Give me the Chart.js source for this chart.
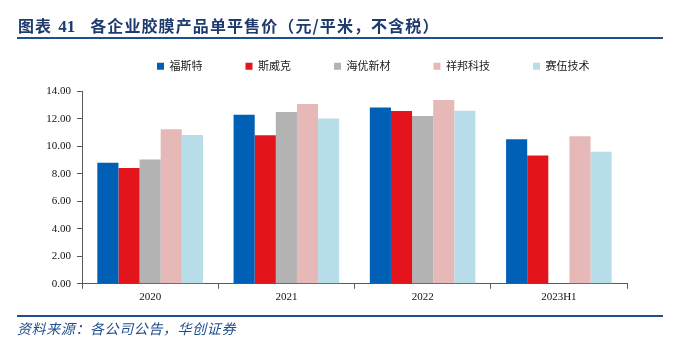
<!DOCTYPE html>
<html>
<head>
<meta charset="utf-8">
<script src="https://cdn.jsdelivr.net/npm/chart.js@4/dist/chart.umd.min.js"></script>
<style>
  html, body { margin: 0; padding: 0; background: #fff; overflow: hidden; }
  body { width: 677px; height: 355px; position: relative; }
  #title { position: absolute; left: 18px; top: 15px; height: 20px; line-height: 20px; font-size: 16px; font-weight: bold; color: #1F3B6E; font-family: "Noto Sans CJK SC", sans-serif; white-space: nowrap; letter-spacing: 1.1px; }
  #title .num { font-family: "Liberation Serif", serif; font-size: 17px; margin-left: 6px; margin-right: 15px; letter-spacing: 0; }
  #topline { position: absolute; left: 17px; top: 37px; width: 646px; height: 2px; background: #1F4E8C; }
  #botline { position: absolute; left: 17px; top: 315px; width: 646px; height: 2px; background: #1F4E8C; }
  #source { position: absolute; left: 17px; top: 319px; line-height: 18px; font-size: 14px; font-style: italic; color: #1F4E8C; font-family: "Noto Sans CJK SC", sans-serif; white-space: nowrap; letter-spacing: 0.6px; }
  #wrap { position: absolute; left: 0; top: 0; width: 677px; height: 355px; }
</style>
</head>
<body>
<div id="wrap"><canvas id="c" width="677" height="355"></canvas></div>
<div id="title">图表<span class="num">41</span>各企业胶膜产品单平售价（元/平米，不含税）</div>
<div id="topline"></div>
<div id="botline"></div>
<div id="source">资料来源：各公司公告，华创证券</div>
<script>
const categories = ["2020", "2021", "2022", "2023H1"];
const seriesNames = ["福斯特", "斯威克", "海优新材", "祥邦科技", "赛伍技术"];
const foster   = [8.79, 12.28, 12.82, 10.51];
const sveck    = [8.42, 10.80, 12.56, 9.33];
const haiyou   = [9.04, 12.48, 12.19, null];
const xiangbang = [11.24, 13.07, 13.36, 10.72];
const cybrid   = [10.82, 12.01, 12.58, 9.60];
const yTicks = [0, 2, 4, 6, 8, 10, 12, 14];

const colors = ["#0060B5", "#E3141C", "#B3B3B3", "#E6B9B8", "#B7DEE8"];
const seriesData = [foster, sveck, haiyou, xiangbang, cybrid];

const legendShift = {
  id: 'legendShift',
  afterLayout(chart) {
    const lg = chart.legend;
    if (!lg || !lg.lineWidths) return;
    const pad = lg.options.labels.padding;
    const start = (lg.left + pad + lg.right - lg.lineWidths[0]) / 2;
    const dx = 157 - start;
    const dy = -9.5;
    lg.left += dx; lg.right += dx;
    lg.top += dy; lg.bottom += dy;
  }
};

new Chart(document.getElementById('c'), {
  type: 'bar',
  data: {
    labels: categories,
    datasets: seriesNames.map((n, i) => ({
      label: n,
      data: seriesData[i],
      backgroundColor: colors[i],
      borderWidth: 0,
      categoryPercentage: 0.775,
      barPercentage: 1.0
    }))
  },
  options: {
    responsive: false,
    animation: false,
    layout: { padding: { top: 27.2, left: 0, right: 50, bottom: 49 } },
    plugins: {
      legend: {
        display: true,
        position: 'top',
        labels: {
          boxWidth: 7,
          boxHeight: 7,
          padding: 43,
          color: '#222',
          font: { family: '"Noto Sans CJK SC", sans-serif', size: 11 }
        }
      },
      tooltip: { enabled: false },
      title: { display: false }
    },
    scales: {
      x: {
        grid: { display: true, drawOnChartArea: false, drawTicks: true, tickLength: 5, color: '#595959', offset: true },
        border: { display: true, color: '#595959', width: 1 },
        ticks: { padding: 2, color: '#111', font: { family: '"Liberation Serif", serif', size: 11 } }
      },
      y: {
        min: 0,
        max: 14,
        afterFit(axis) { axis.width = 82; },
        afterBuildTicks(axis) { axis.ticks = yTicks.map(v => ({ value: v })); },
        grid: { display: true, drawOnChartArea: false, drawTicks: true, tickLength: 5, color: '#595959' },
        border: { display: true, color: '#595959', width: 1 },
        ticks: {
          padding: 6,
          color: '#111',
          font: { family: '"Liberation Serif", serif', size: 11 },
          callback: v => Number(v).toFixed(2)
        }
      }
    }
  },
  plugins: [legendShift]
});
</script>
</body>
</html>
